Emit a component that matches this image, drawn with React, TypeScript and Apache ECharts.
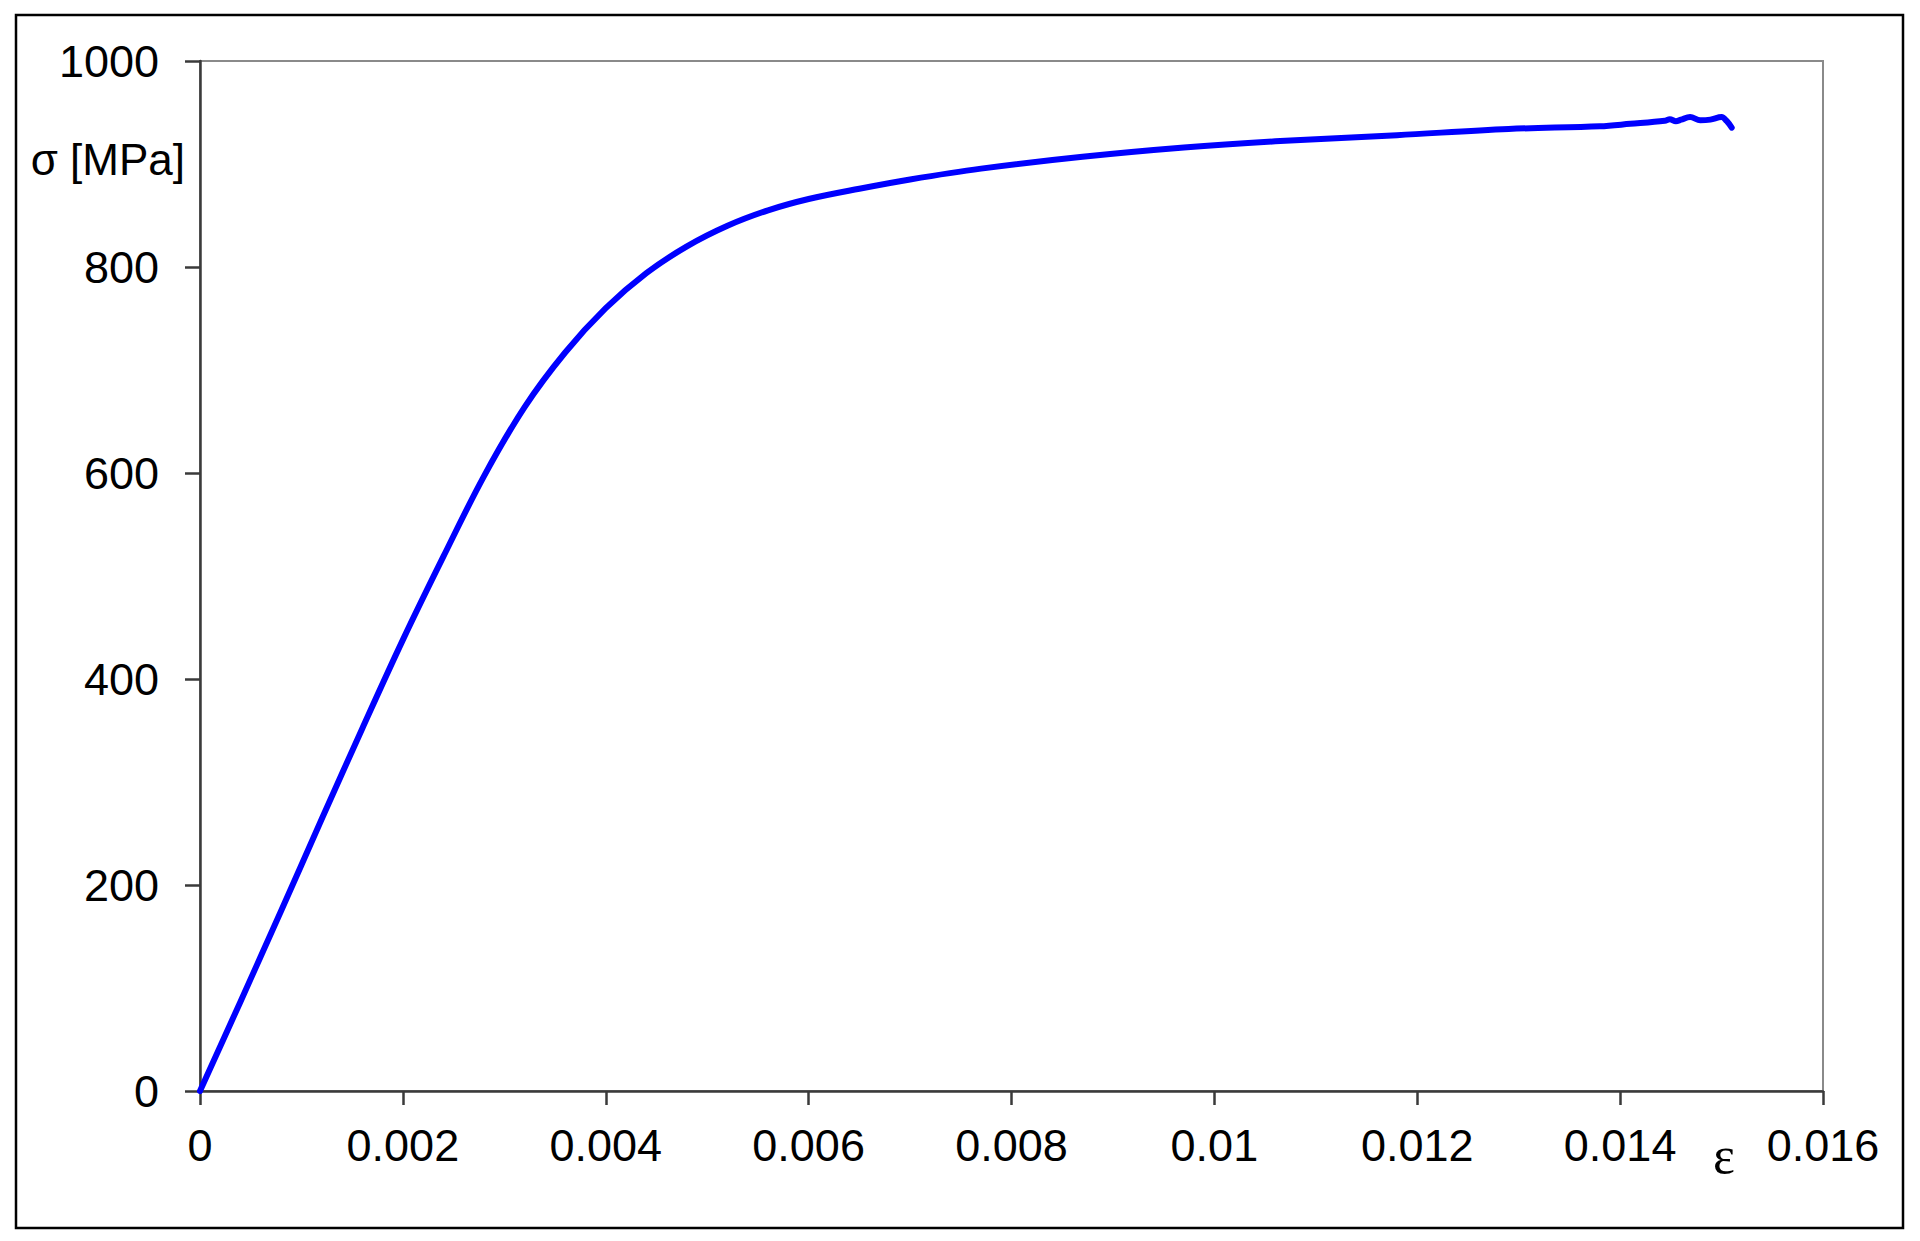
import React, { useEffect, useRef } from "react";
import * as echarts from "echarts";

// Strain ε (dimensionless)
const strain = [
  0, 0.0004, 0.0008, 0.0012, 0.0016, 0.002, 0.0024, 0.0028, 0.0032, 0.0036,
  0.004, 0.0044, 0.0048, 0.0052, 0.0056, 0.006, 0.0065, 0.007,
  0.0077, 0.0087, 0.0097, 0.0106, 0.0118, 0.0129, 0.0138, 0.0141, 0.01444, 0.01449,
  0.01455, 0.0146, 0.01469, 0.01479, 0.01489, 0.015, 0.01505, 0.0151,
];
// Stress σ [MPa]
const stress = [
  0, 87, 175, 264, 352, 438, 519, 597, 664, 717,
  760, 794, 820, 840, 855, 866, 876, 885,
  895.5, 907, 916, 922, 928, 934, 936.6, 939, 942, 943.5,
  941.5, 943, 945.6, 942.4, 943.1, 945.6, 941.8, 935.3,
];

const xMin = 0;
const xMax = 0.016;
const xStep = 0.002;
const yMin = 0;
const yMax = 1000;
const yStep = 200;

const yAxisTitle = "σ [MPa]";
const xAxisTitle = "ε";

const FONT = "'Liberation Sans', Arial, sans-serif";

export default function App() {
  const ref = useRef<HTMLDivElement>(null);

  useEffect(() => {
    const chart = echarts.init(ref.current!, null, { renderer: "svg" });
    const data = strain.map((e, i) => [e, stress[i]]);
    chart.setOption({
      animation: false,
      backgroundColor: "#ffffff",
      grid: {
        left: 200,
        right: 97,
        top: 61,
        bottom: 150,
        show: true,
        borderColor: "#8a8a8a",
        borderWidth: 2,
        backgroundColor: "transparent",
      },
      xAxis: {
        type: "value",
        min: xMin,
        max: xMax,
        interval: xStep,
        axisLine: { show: true, lineStyle: { color: "#3a3a3a", width: 2.5 } },
        axisTick: { show: true, length: 14, lineStyle: { color: "#3a3a3a", width: 2.5 } },
        splitLine: { show: false },
        axisLabel: {
          margin: 32,
          color: "#000",
          fontSize: 45,
          lineHeight: 45,
          fontFamily: FONT,
          showMaxLabel: true,
          showMinLabel: true,
          formatter: (v: number) => String(+v.toFixed(3)),
        },
      },
      yAxis: {
        type: "value",
        min: yMin,
        max: yMax,
        interval: yStep,
        axisLine: { show: true, lineStyle: { color: "#3a3a3a", width: 2.5 } },
        axisTick: { show: true, length: 15, lineStyle: { color: "#3a3a3a", width: 2.5 } },
        splitLine: { show: false },
        axisLabel: {
          margin: 41,
          color: "#000",
          fontSize: 45,
          lineHeight: 45,
          fontFamily: FONT,
          formatter: (v: number) => String(Math.round(v)),
        },
      },
      series: [
        {
          type: "line",
          data,
          showSymbol: false,
          symbol: "none",
          smooth: 0.35,
          lineStyle: { color: "#0000ff", width: 6, cap: "round", join: "round" },
          z: 5,
        },
      ],
      graphic: [
        {
          type: "rect",
          shape: { x: 16, y: 15, width: 1887, height: 1213 },
          style: { fill: "none", stroke: "#000", lineWidth: 2.5 },
          z: 0,
        },
        {
          type: "text",
          x: 185,
          y: 159,
          style: {
            text: yAxisTitle,
            fill: "#000",
            font: `44px ${FONT}`,
            textAlign: "right",
            textVerticalAlign: "middle",
            verticalAlign: "middle",
          },
        },
        {
          type: "text",
          x: 1724,
          y: 1155,
          style: {
            text: xAxisTitle,
            fill: "#000",
            font: "52px 'Liberation Serif', 'Times New Roman', serif",
            textAlign: "center",
            textVerticalAlign: "middle",
            verticalAlign: "middle",
          },
        },
      ],
    });
    return () => chart.dispose();
  }, []);

  return (
    <div
      ref={ref}
      style={{
        position: "absolute",
        left: 0,
        top: 0,
        width: 1920,
        height: 1241,
        background: "#fff",
      }}
    />
  );
}
